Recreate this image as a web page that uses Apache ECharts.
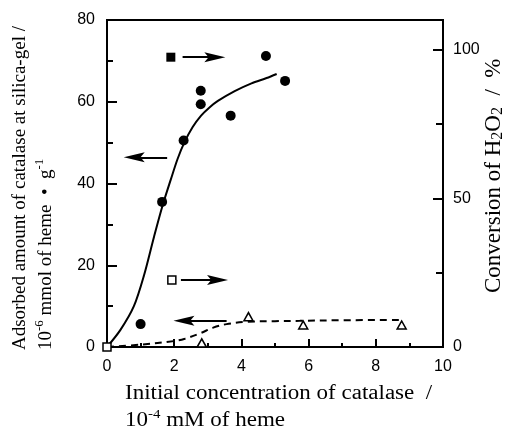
<!DOCTYPE html>
<html>
<head>
<meta charset="utf-8">
<script src="https://cdn.jsdelivr.net/npm/echarts@6/dist/echarts.min.js"></script>
<style>html,body{margin:0;padding:0;background:#fff;}#c{width:508px;height:443px;}</style>
</head>
<body>
<div id="c"></div>
<script>
// x ticks
var xTicks = [0, 2, 4, 6, 8, 10];
var leftTicks = [0, 20, 40, 60, 80];
var rightTicks = [0, 50, 100];
var rightMinorTicks = [25, 75];

// Adsorbed amount (filled circles, left axis)
var adsorbedX = [1.0, 1.64, 2.28, 2.79, 2.79, 3.68, 4.73, 5.30];
var adsorbedY = [5.6, 35.5, 50.5, 62.7, 59.4, 56.6, 71.2, 65.1];
// Adsorbed fitted curve (solid)
var adsFitX = [0, 0.4, 0.8, 1.1, 1.4, 1.65, 1.9, 2.1, 2.3, 2.55, 2.8, 3.05, 3.3, 3.8, 4.3, 4.75, 5.05];
var adsFitY = [0, 4.2, 10, 17.5, 27, 34.5, 41, 46, 50, 53.8, 56.6, 58.6, 60.2, 62.6, 64.5, 65.8, 66.8];

// Conversion of H2O2 (open triangles, right axis)
var convX = [2.82, 4.21, 5.84, 8.77];
var convY = [1.4, 10.2, 7.4, 7.4];
// Conversion fitted curve (dashed)
var convFitX = [0, 1.0, 2.0, 2.32, 2.77, 3.16, 3.56, 4.16, 5.0, 5.74, 7.0, 8.72];
var convFitY = [0, 0.8, 2.0, 2.8, 4.6, 6.5, 7.7, 8.5, 8.7, 8.8, 9.0, 9.1];

// open square at origin
var originX = [0];
var originY = [0];

// legend-style annotations (data units, left axis)
var filledSquare = [1.9, 70.9];
var openSquare = [1.93, 16.4];
var arrows = [
  [[2.25, 70.9], [3.21, 70.9]],
  [[2.20, 16.4], [3.29, 16.4]],
  [[1.79, 46.4], [0.81, 46.4]],
  [[3.56, 6.4], [2.29, 6.4]]
];

function zip(a, b) { return a.map(function (v, i) { return [v, b[i]]; }); }

var sans = 'Liberation Sans, Arial, sans-serif';
var serif = 'Liberation Serif, Times New Roman, serif';
var axisLine = { show: true, lineStyle: { color: '#000', width: 2 } };
var arrowHead = 'path://M5,0L10,20L5,16L0,20Z';

var chart = echarts.init(document.getElementById('c'), null, { renderer: 'canvas' });
chart.setOption({
  animation: false,
  backgroundColor: '#fff',
  grid: { left: 107, right: 65, top: 20, bottom: 96, show: true, borderColor: '#000', borderWidth: 2, backgroundColor: 'transparent' },
  xAxis: {
    type: 'value', min: xTicks[0], max: xTicks[xTicks.length - 1], interval: 2,
    axisLine: axisLine,
    axisTick: { inside: true, length: 8, lineStyle: { color: '#000', width: 2 } },
    minorTick: { show: true, splitNumber: 2, length: 4, lineStyle: { color: '#000', width: 2 } },
    axisLabel: { color: '#000', fontSize: 16, fontFamily: sans, margin: 12 },
    splitLine: { show: false }
  },
  yAxis: [
    {
      type: 'value', position: 'left', min: 0, max: 80, interval: 20,
      axisLine: axisLine,
      axisTick: { inside: true, length: 10, lineStyle: { color: '#000', width: 2 } },
      minorTick: { show: true, splitNumber: 2, length: 6, lineStyle: { color: '#000', width: 2 } },
      axisLabel: { color: '#000', fontSize: 16, fontFamily: sans, margin: 12 },
      splitLine: { show: false }
    },
    {
      type: 'value', position: 'right', min: 0, max: 110,
      axisLine: axisLine,
      axisTick: { inside: true, length: 10, customValues: rightTicks, lineStyle: { color: '#000', width: 2 } },
      axisLabel: { color: '#000', fontSize: 16, fontFamily: sans, margin: 10, customValues: rightTicks },
      splitLine: { show: false }
    },
    {
      type: 'value', position: 'right', min: 0, max: 110,
      axisLine: { show: false },
      axisTick: { show: true, inside: true, length: 7, customValues: rightMinorTicks, lineStyle: { color: '#000', width: 2 } },
      axisLabel: { show: false },
      splitLine: { show: false }
    }
  ],
  series: [
    {
      type: 'line', yAxisIndex: 0, data: zip(adsFitX, adsFitY), smooth: 0.3,
      showSymbol: false, lineStyle: { color: '#000', width: 2 }, z: 2
    },
    {
      type: 'line', yAxisIndex: 1, data: zip(convFitX, convFitY), smooth: 0.35,
      showSymbol: false, lineStyle: { color: '#000', width: 2, type: [7, 5] }, z: 2
    },
    {
      type: 'scatter', yAxisIndex: 0, data: zip(adsorbedX, adsorbedY), symbol: 'circle', symbolSize: 10,
      itemStyle: { color: '#000', opacity: 1 }, z: 3
    },
    {
      type: 'scatter', yAxisIndex: 1, data: zip(convX, convY), symbol: 'triangle', symbolSize: [9, 8],
      itemStyle: { color: '#fff', borderColor: '#000', borderWidth: 1.5, opacity: 1 }, z: 3
    },
    {
      type: 'scatter', yAxisIndex: 0, data: zip(originX, originY), symbol: 'rect', symbolSize: 8,
      itemStyle: { color: '#fff', borderColor: '#000', borderWidth: 1.5, opacity: 1 }, z: 4
    },
    {
      type: 'scatter', yAxisIndex: 0, data: [openSquare], symbol: 'rect', symbolSize: 8,
      itemStyle: { color: '#fff', borderColor: '#000', borderWidth: 1.5, opacity: 1 }, z: 4
    },
    {
      type: 'scatter', yAxisIndex: 0, data: [filledSquare], symbol: 'rect', symbolSize: 9,
      itemStyle: { color: '#000', opacity: 1 }, z: 4,
      markLine: {
        silent: true, animation: false,
        symbol: ['none', arrowHead], symbolSize: [10, 21],
        label: { show: false },
        lineStyle: { color: '#000', width: 2, type: 'solid', opacity: 1 },
        itemStyle: { color: '#000' },
        emphasis: { disabled: true },
        data: arrows.map(function (a) { return [{ coord: a[0] }, { coord: a[1] }]; })
      }
    }
  ],
  graphic: [
    {
      type: 'text', x: 125, y: 394, scaleX: 1.15,
      style: { text: 'Initial concentration of catalase  /', font: '20px ' + serif, fill: '#000', verticalAlign: 'middle', align: 'left' }
    },
    {
      type: 'text', x: 125, y: 421, scaleX: 1.15,
      style: {
        text: '{a|10}{s|-4}{a| mM of heme}', fill: '#000', verticalAlign: 'middle', align: 'left',
        rich: {
          a: { fontSize: 20, fontFamily: serif, fill: '#000' },
          s: { fontSize: 13, fontFamily: serif, fill: '#000', padding: [0, 0, 12, 0] }
        }
      }
    },
    {
      type: 'text', x: 20, y: 350, rotation: Math.PI / 2,
      style: { text: 'Adsorbed amount of catalase at silica-gel /', font: '19px ' + serif, fill: '#000', verticalAlign: 'middle', align: 'left' }
    },
    {
      type: 'text', x: 46, y: 350, rotation: Math.PI / 2,
      style: {
        text: '{a|10}{s|-6}{a| mmol of heme  \u2022  g}{s|-1}', fill: '#000', verticalAlign: 'middle', align: 'left',
        rich: {
          a: { fontSize: 19, fontFamily: serif, fill: '#000' },
          s: { fontSize: 13, fontFamily: serif, fill: '#000', padding: [0, 0, 12, 0] }
        }
      }
    },
    {
      type: 'text', x: 494, y: 293, rotation: Math.PI / 2,
      style: {
        text: '{a|Conversion of H}{b|2}{a|O}{b|2}{a|  /  %}', fill: '#000', verticalAlign: 'middle', align: 'left',
        rich: {
          a: { fontSize: 23, fontFamily: serif, fill: '#000' },
          b: { fontSize: 16, fontFamily: serif, fill: '#000', padding: [8, 0, 0, 0] }
        }
      }
    }
  ]
});
</script>
</body>
</html>
